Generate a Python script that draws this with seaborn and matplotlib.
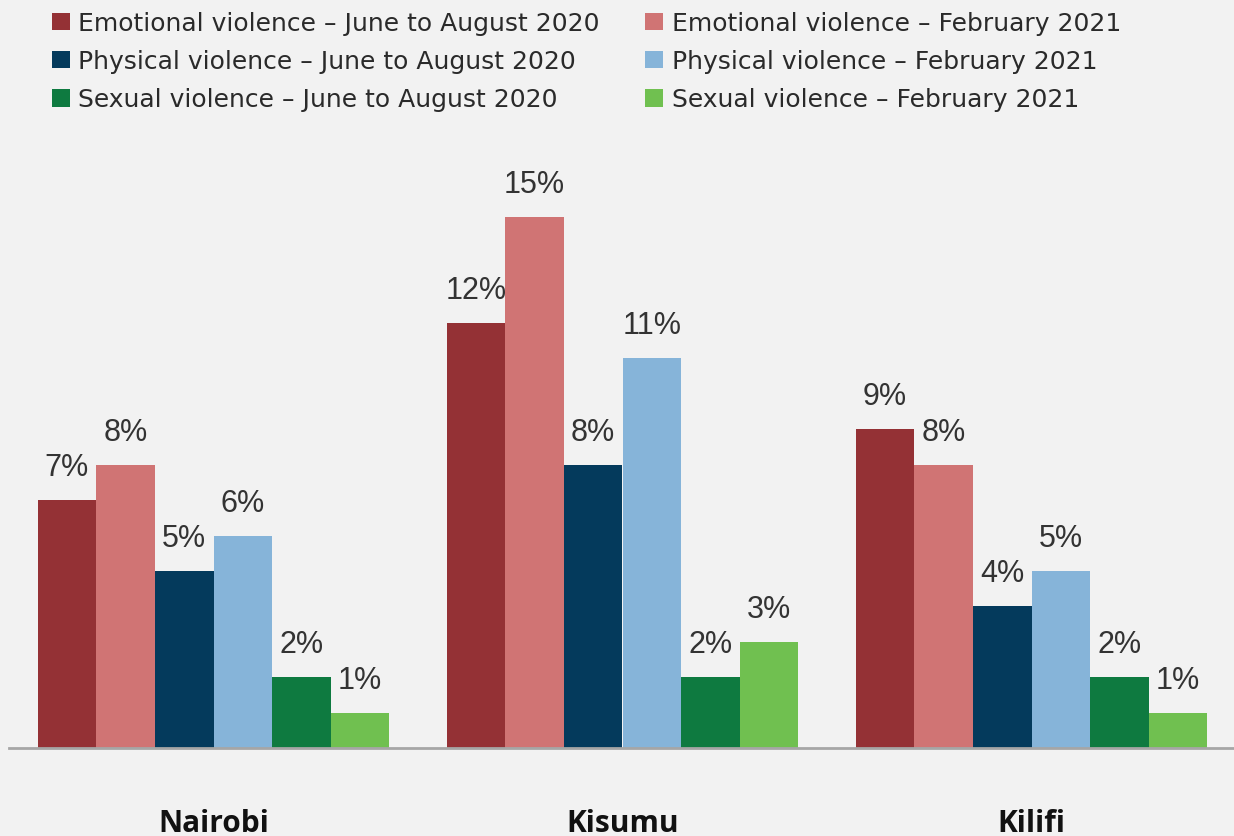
import pandas as pd
import matplotlib.pyplot as plt
import seaborn as sns

# Datos (porcentajes por ciudad)
ciudades = ["Nairobi", "Kisumu", "Kilifi"]
series = [
    "Emotional violence – June to August 2020",
    "Emotional violence – February 2021",
    "Physical violence – June to August 2020",
    "Physical violence – February 2021",
    "Sexual violence – June to August 2020",
    "Sexual violence – February 2021",
]
emocional_2020 = [7, 12, 9]
emocional_2021 = [8, 15, 8]
fisica_2020 = [5, 8, 4]
fisica_2021 = [6, 11, 5]
sexual_2020 = [2, 2, 2]
sexual_2021 = [1, 3, 1]
colores = ["#943135", "#d07474", "#043a5c", "#86b4d9", "#0e7a40", "#70c050"]

valores = [emocional_2020, emocional_2021, fisica_2020, fisica_2021, sexual_2020, sexual_2021]
filas = []
for serie, vals in zip(series, valores):
    for ciudad, v in zip(ciudades, vals):
        filas.append({"ciudad": ciudad, "serie": serie, "valor": v})
df = pd.DataFrame(filas)

sns.set_style("white")
fondo = "#f2f2f2"
fig = plt.figure(figsize=(12.34, 8.37), dpi=100, facecolor=fondo)
ax = fig.add_axes([9 / 1234, 88 / 837, 1227 / 1234, 602 / 837])
ax.set_facecolor(fondo)

sns.barplot(data=df, x="ciudad", y="valor", hue="serie", hue_order=series,
            order=ciudades, palette=colores, width=0.86, saturation=1,
            linewidth=0, ax=ax)

# Etiquetas de porcentaje sobre cada barra
for cont, vals in zip(ax.containers, valores):
    for p, v in zip(cont.patches, vals):
        ax.annotate(f"{v}%", (p.get_x() + p.get_width() / 2, p.get_height()),
                    xytext=(0, 18), textcoords="offset points",
                    ha="center", va="baseline", fontsize=22,
                    family="Liberation Sans", color="#333333")

ax.set_xlim(-0.5, 2.5)
ax.set_ylim(0, 17)
ax.set_yticks([])
ax.set_xlabel("")
ax.set_ylabel("")
ax.tick_params(axis="x", length=0, pad=43)
for lbl in ax.get_xticklabels():
    lbl.set_fontfamily("Open Sans")
    lbl.set_fontweight("bold")
    lbl.set_fontsize(21.5)
    lbl.set_color("#111111")
for s in ["top", "right", "left"]:
    ax.spines[s].set_visible(False)
ax.spines["bottom"].set_color("#a6a6a6")
ax.spines["bottom"].set_linewidth(2)

# Leyenda: 2 columnas (2020 a la izquierda, 2021 a la derecha)
handles, labels = ax.get_legend_handles_labels()
ax.get_legend().remove()
orden = [0, 2, 4, 1, 3, 5]
fig.legend([handles[i] for i in orden], [labels[i] for i in orden],
           ncol=2, loc="upper left", bbox_to_anchor=(52 / 1234, 1 - 12 / 837),
           frameon=False, borderpad=0, borderaxespad=0,
           handlelength=0.7, handleheight=0.7, handletextpad=0.36,
           columnspacing=1.8, labelspacing=0.57,
           prop={"family": "DejaVu Sans", "size": 18}, labelcolor="#2a2a2a")

fig.savefig("out.png", dpi=100, facecolor=fondo)
